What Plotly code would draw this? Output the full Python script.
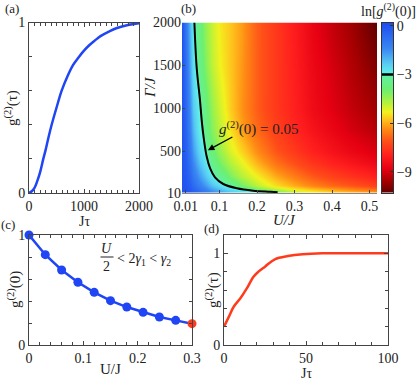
import plotly.graph_objects as go

W, H = 416, 381
FONT = "Liberation Serif"

# ---------------- data ----------------
# (a) g2(tau) vs J tau
a_tau = [0, 50, 100, 150, 200, 260, 300, 350, 412, 500, 594, 700, 800, 900, 1000,
         1100, 1200, 1300, 1470, 1600, 1800, 2000]
a_g2 = [0, 0.01, 0.03, 0.07, 0.12, 0.2, 0.25, 0.32, 0.4, 0.5, 0.6, 0.685, 0.75, 0.795,
        0.835, 0.868, 0.895, 0.92, 0.95, 0.968, 0.985, 0.995]

# (b) ln g2(0) map: U/J (columns) x Gamma/J (rows)
b_u = [0, 0.01, 0.02, 0.03, 0.045, 0.06, 0.08, 0.1, 0.13, 0.16, 0.2, 0.25, 0.3, 0.35,
       0.4, 0.45, 0.5, 0.52]
b_gamma = [10, 30, 60, 100, 200, 350, 500, 750, 1000, 1500, 2000]
b_ln_g2 = [
    [0, -0.03, -0.11, -0.23, -0.46, -0.73, -1.1, -1.45, -1.93, -2.35, -2.75, -3.4, -4.4, -5.0, -5.4, -5.6, -5.8, -5.9],
    [0, -0.04, -0.16, -0.33, -0.65, -0.99, -1.43, -1.8, -2.3, -2.65, -2.85, -4.0, -4.9, -5.35, -5.7, -5.95, -6.2, -6.3],
    [0, -0.06, -0.23, -0.47, -0.89, -1.3, -1.8, -2.2, -2.75, -3.15, -4.1, -4.95, -5.5, -5.9, -6.2, -6.5, -6.75, -6.85],
    [0, -0.09, -0.33, -0.64, -1.14, -1.6, -2.15, -2.6, -3.25, -4.0, -4.8, -5.5, -6.0, -6.4, -6.75, -7.0, -7.25, -7.35],
    [0, -0.16, -0.53, -0.98, -1.6, -2.15, -2.8, -3.3, -4.1, -4.7, -5.3, -6.0, -6.5, -6.95, -7.3, -7.6, -7.85, -7.95],
    [0, -0.25, -0.8, -1.35, -2.1, -2.65, -3.35, -4.0, -4.7, -5.2, -5.9, -6.6, -7.1, -7.55, -7.9, -8.2, -8.45, -8.55],
    [0, -0.34, -1.0, -1.65, -2.45, -2.95, -3.75, -4.4, -5.1, -5.6, -6.3, -7.0, -7.5, -7.95, -8.3, -8.6, -8.85, -8.95],
    [0, -0.47, -1.3, -2.0, -2.85, -3.45, -4.2, -4.8, -5.5, -6.1, -6.75, -7.35, -7.85, -8.3, -8.65, -9.0, -9.25, -9.35],
    [0, -0.6, -1.5, -2.25, -2.98, -3.6, -4.4, -5.0, -5.7, -6.25, -6.9, -7.5, -8.0, -8.5, -8.85, -9.2, -9.5, -9.6],
    [0, -0.8, -1.85, -2.6, -3.4, -4.1, -4.8, -5.3, -5.75, -6.2, -6.9, -7.5, -8.05, -8.6, -9.0, -9.4, -9.8, -9.95],
    [0, -1.0, -2.1, -2.85, -3.6, -4.3, -4.9, -5.4, -5.75, -6.15, -6.9, -7.5, -8.1, -8.7, -9.2, -9.6, -10.1, -10.25],
]
contour_u = [0.033, 0.039, 0.048, 0.0525, 0.0587, 0.066, 0.075, 0.088, 0.11, 0.146, 0.19, 0.235, 0.255]
contour_gamma = [2000, 1480, 1092, 860, 627, 432, 297, 193, 115, 65, 37, 25, 20]
b_xticks = [0.01, 0.1, 0.2, 0.3, 0.4, 0.5]
b_yticks = [10, 500, 1000, 1500, 2000]
cb_ticks = [0, -3, -6, -9]

# (c) g2(0) vs U/J
c_u = [0, 0.03, 0.06, 0.09, 0.12, 0.15, 0.18, 0.21, 0.24, 0.27, 0.30]
c_g2 = [1.0, 0.821, 0.682, 0.570, 0.479, 0.403, 0.345, 0.297, 0.255, 0.224, 0.194]

# (d) g2(tau) vs J tau
d_tau = [0, 3, 6, 10, 14, 18, 21, 25, 31, 39, 48, 60, 70, 80, 90, 100]
d_g2 = [0.2, 0.31, 0.42, 0.51, 0.62, 0.745, 0.8, 0.855, 0.935, 0.97, 0.99, 1.0, 1.0, 1.0, 1.0, 1.0]

# colour scale for ln g2(0)
ZMIN, ZMAX = -10.3, 0.2
cs_vals = [-10.3, -9.6, -8.8, -8.0, -7.1, -6.3, -5.8, -5.3, -4.7, -3.9, -3.05, -2.95, -2.3, -1.4, 0.2]
cs_colors = ['#5c0000', '#a00000', '#e60012', '#ff1e1e', '#ff4d18', '#ff8c14', '#ffbf1c',
             '#f2f21e', '#b4f23c', '#6cf070', '#62f0a0', '#60f2e8', '#58cdf4', '#3a88f2', '#1e4cf0']

BLUE = '#1f45f5'
RED = '#ff3b1d'
AXC = '#444444'


def px(x):
    return x / W


def py(y):
    return 1 - y / H


colorscale = [[(v - ZMIN) / (ZMAX - ZMIN), c] for v, c in zip(cs_vals, cs_colors)]

fig = go.Figure()

# (a)
fig.add_trace(go.Scatter(x=a_tau, y=a_g2, mode='lines', line=dict(color=BLUE, width=2.5, shape='spline'),
                         xaxis='x', yaxis='y', showlegend=False))

# (b)
fig.add_trace(go.Heatmap(x=b_u, y=b_gamma, z=b_ln_g2, zsmooth='best', zmin=ZMIN, zmax=ZMAX,
                         colorscale=colorscale, xaxis='x2', yaxis='y2', showscale=False))
fig.add_trace(go.Scatter(x=contour_u, y=contour_gamma, mode='lines',
                         line=dict(color='black', width=2, shape='spline'),
                         xaxis='x2', yaxis='y2', showlegend=False))
# colour bar drawn as its own thin heatmap on the scale stops
fig.add_trace(go.Heatmap(x=[0, 1], y=cs_vals, z=[[v, v] for v in cs_vals], zsmooth='best',
                         zmin=ZMIN, zmax=ZMAX, colorscale=colorscale, showscale=False,
                         xaxis='x5', yaxis='y5', hoverinfo='skip'))

# (c)
fig.add_trace(go.Scatter(x=c_u, y=c_g2, mode='lines+markers', line=dict(color=BLUE, width=2.5),
                         marker=dict(size=9, color=[BLUE] * (len(c_u) - 1) + [RED]),
                         cliponaxis=False, xaxis='x3', yaxis='y3', showlegend=False))

# (d)
fig.add_trace(go.Scatter(x=d_tau, y=d_g2, mode='lines', line=dict(color=RED, width=2.5, shape='spline'),
                         xaxis='x4', yaxis='y4', showlegend=False))

TF = dict(family=FONT, size=14, color='#222')
box = dict(showline=True, linecolor=AXC, linewidth=1, mirror='allticks', ticks='inside',
           ticklen=4, tickcolor=AXC, showgrid=False, zeroline=False, tickfont=TF)


def ax(domain, anchor, rng, dtick, minor, **kw):
    d = dict(box)
    d.update(domain=domain, anchor=anchor, range=rng, dtick=dtick, tick0=0,
             minor=dict(dtick=minor, ticks='inside', ticklen=3, tickcolor=AXC))
    d.update(kw)
    return d


ya_dom = [py(193), py(22.5)]
yc_dom = [py(345), py(235)]

fig.update_layout(
    width=W, height=H, margin=dict(l=0, r=0, t=0, b=0, autoexpand=False),
    paper_bgcolor='white', plot_bgcolor='white',
    font=dict(family=FONT, size=14, color='#222'),
    xaxis=ax([px(29), px(139)], 'y', [0, 2000], 1000, 100),
    yaxis=ax(ya_dom, 'x', [0, 1], 1, 0.2),
    xaxis2=dict(domain=[px(182), px(377)], anchor='y2', range=[0, 0.52], tickvals=b_xticks,
                ticktext=[str(v) for v in b_xticks], ticks='inside', ticklen=3, tickcolor=AXC,
                showline=True, linecolor='#888', linewidth=1, showgrid=False, zeroline=False,
                tickfont=TF),
    yaxis2=dict(domain=ya_dom, anchor='x2', range=[10, 2000], tickvals=b_yticks,
                ticks='inside', ticklen=3, tickcolor=AXC, showline=False, showgrid=False,
                zeroline=False, tickfont=TF),
    xaxis3=ax([px(29), px(192)], 'y3', [0, 0.3], 0.1, 0.02),
    yaxis3=ax(yc_dom, 'x3', [0, 1], 1, 0.2),
    xaxis4=ax([px(224), px(388)], 'y4', [0, 100], 50, 10),
    yaxis4=ax(yc_dom, 'x4', [0, 1.2], 1, 0.2),
    xaxis5=dict(domain=[px(382), px(393)], anchor='y5', range=[0, 1], showticklabels=False,
                ticks='', showline=True, linecolor='#333', linewidth=1, mirror=True,
                showgrid=False, zeroline=False),
    yaxis5=dict(domain=ya_dom, anchor='x5', side='right', range=[ZMIN, ZMAX], tickvals=cb_ticks,
                ticks='inside', ticklen=3, tickcolor='#333', showline=True, linecolor='#333',
                linewidth=1, mirror=True, showgrid=False, zeroline=False, tickfont=TF),
)

# black marker on colour bar at the contour level ln(0.05)
fig.add_shape(type='line', xref='x5', yref='y5', x0=0, x1=1, y0=-3, y1=-3,
              line=dict(color='black', width=2.5))

ann = []


def txt(x, y, s, size=14, angle=0, xanchor='center'):
    ann.append(dict(x=px(x), y=py(y), xref='paper', yref='paper', text=s, showarrow=False,
                    font=dict(family=FONT, size=size, color='#222'), textangle=angle,
                    xanchor=xanchor, yanchor='middle'))


txt(12, 9, '(a)', 13)
txt(188, 9, '(b)', 13)
txt(8, 224, '(c)', 13)
txt(211, 228, '(d)', 13)
txt(12, 108, 'g<sup>(2)</sup>(τ)', 15, -90)
txt(84, 221, 'Jτ', 14)
txt(150, 87, '<i>Γ/J</i>', 15, -90)
txt(284, 220, '<i>U/J</i>', 15)
txt(388, 11, 'ln[<i>g</i><sup>(2)</sup>(0)]', 14)
txt(258, 128, '<i>g</i><sup>(2)</sup>(0) = 0.05', 15)
txt(14, 290, 'g<sup>(2)</sup>(0)', 15, -90)
txt(110, 369, 'U/J', 15)
txt(212, 290, 'g<sup>(2)</sup>(τ)', 15, -90)
txt(306, 373, 'Jτ', 14)
txt(107, 248, '<i>U</i>', 14)
txt(107, 266, '2', 14)
txt(115, 259, '&lt; 2<i>γ</i><sub>1</sub> &lt; <i>γ</i><sub>2</sub>', 14, xanchor='left')
ann.append(dict(x=0.069, y=510, xref='x2', yref='y2', ax=26, ay=-14, text='', showarrow=True,
                arrowhead=2, arrowsize=1, arrowwidth=1.3, arrowcolor='black'))
fig.update_layout(annotations=ann)
fig.add_shape(type='line', xref='paper', yref='paper', x0=px(100.5), x1=px(113.5),
              y0=py(257), y1=py(257), line=dict(color='#222', width=1))

fig.write_html("out.html", config={'displayModeBar': False},
               post_script="document.body.style.margin='0';document.body.style.overflow='hidden';")
